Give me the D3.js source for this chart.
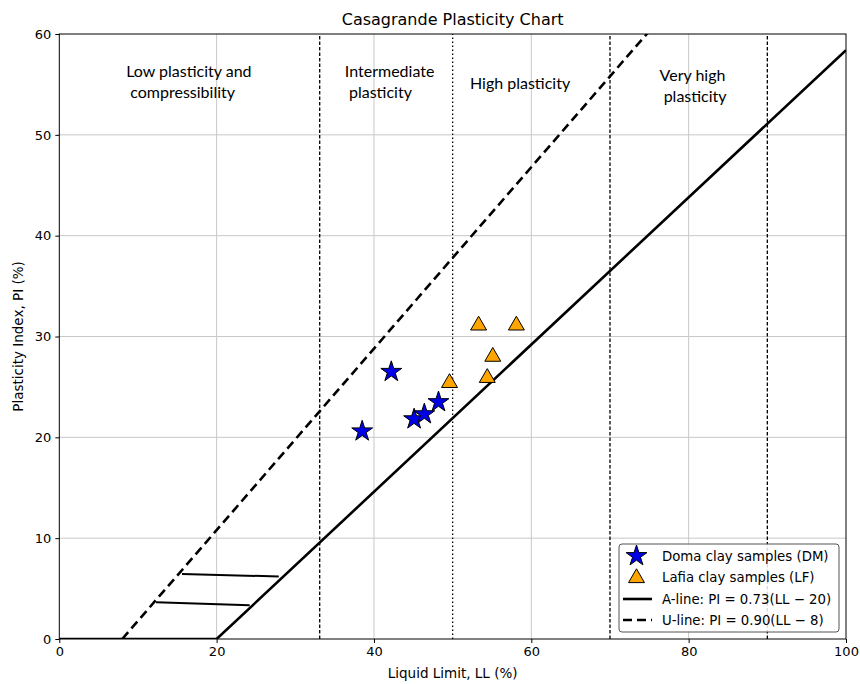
<!DOCTYPE html>
<html>
<head>
<meta charset="utf-8">
<script src="https://cdn.jsdelivr.net/npm/d3@7"></script>
<style>
  body { margin: 0; background: #fff; }
  text { font-family: "DejaVu Sans", sans-serif; }
  .zone { font-family: Lato, "Open Sans", sans-serif; font-size: 16px; }
</style>
</head>
<body>
<div id="chart"></div>
<script>
// chart data

var width = 860, height = 684;
var margin = {left: 59.3, right: 14, top: 34, bottom: 45};

var domaLL = [38.5, 42.2, 45.1, 46.4, 48.2];
var domaPI = [20.6, 26.5, 21.8, 22.3, 23.5];
var lafiaLL = [53.3, 58.1, 55.1, 54.4, 49.6];
var lafiaPI = [31.2, 31.2, 28.1, 26.0, 25.5];

var aLineLL = [0, 20, 100];
var uLineLL = [8, 100];

var zoneLL = [33.1, 50, 70, 90];
var zoneStyle = ["dash", "dot", "dash", "dash"];

var zoneText = [
  {x: 8.5, y: 55.7, lines: ["Low plasticity and", " compressibility"]},
  {x: 36.3, y: 55.7, lines: ["Intermediate", " plasticity"]},
  {x: 52.2, y: 54.5, lines: ["High plasticity"]},
  {x: 76.3, y: 55.3, lines: ["Very high", " plasticity"]}
];

// the two small horizontal marks near the origin
var hashLines = [
  [[15.6, 6.45], [27.9, 6.2]],
  [[12.3, 3.65], [24.2, 3.35]]
];

var xTicks = [0, 20, 40, 60, 80, 100];
var yTicks = [0, 10, 20, 30, 40, 50, 60];

var legendLabels = ["Doma clay samples (DM)", "Lafia clay samples (LF)",
  "A-line: PI = 0.73(LL \u2212 20)", "U-line: PI = 0.90(LL \u2212 8)"];

// scales

var x = d3.scaleLinear().domain([0, 100]).range([margin.left, width - margin.right]);
var y = d3.scaleLinear().domain([0, 60]).range([height - margin.bottom, margin.top]);

var svg = d3.select("#chart").append("svg")
  .attr("width", width)
  .attr("height", height);

svg.append("clipPath").attr("id", "clip")
  .append("rect")
  .attr("x", x(0)).attr("y", y(60))
  .attr("width", x(100) - x(0)).attr("height", y(0) - y(60));

// grid
svg.append("g").selectAll("line")
  .data(xTicks.slice(1, -1))
  .enter().append("line")
  .attr("x1", d => x(d)).attr("x2", d => x(d))
  .attr("y1", y(0)).attr("y2", y(60))
  .attr("stroke", "#c8c8c8").attr("stroke-width", 1);

svg.append("g").selectAll("line")
  .data(yTicks.slice(1, -1))
  .enter().append("line")
  .attr("x1", x(0)).attr("x2", x(100))
  .attr("y1", d => y(d)).attr("y2", d => y(d))
  .attr("stroke", "#c8c8c8").attr("stroke-width", 1);

// zone dividers
svg.append("g").selectAll("line")
  .data(zoneLL)
  .enter().append("line")
  .attr("x1", d => x(d)).attr("x2", d => x(d))
  .attr("y1", y(0)).attr("y2", y(60))
  .attr("stroke", "#000").attr("stroke-width", 1.3)
  .attr("stroke-dasharray", (d, i) => zoneStyle[i] == "dot" ? "1.5,2.5" : "3.5,2");

// zone labels
zoneText.forEach(function(z) {
  var t = svg.append("text").attr("class", "zone")
    .attr("x", x(z.x)).attr("y", y(z.y));
  z.lines.forEach(function(l, i) {
    t.append("tspan").attr("x", x(z.x)).attr("dy", i == 0 ? 0 : 21)
      .attr("xml:space", "preserve").text(l);
  });
});

var plot = svg.append("g").attr("clip-path", "url(#clip)");

var line = d3.line().x(d => x(d[0])).y(d => y(d[1]));

// A-line and U-line
plot.append("path")
  .datum(aLineLL.map(d => [d, Math.max(0, 0.73 * (d - 20))]))
  .attr("d", line)
  .attr("fill", "none").attr("stroke", "#000").attr("stroke-width", 2.6);

plot.append("path")
  .datum(uLineLL.map(d => [d, 0.90 * (d - 8)]))
  .attr("d", line)
  .attr("fill", "none").attr("stroke", "#000").attr("stroke-width", 2.6)
  .attr("stroke-dasharray", "9,5");

plot.selectAll("path.hash")
  .data(hashLines)
  .enter().append("path").attr("class", "hash")
  .attr("d", line)
  .attr("fill", "none").attr("stroke", "#000").attr("stroke-width", 2);

// samples
var star = d3.symbol().type(d3.symbolStar).size(135);
var tri = d3.symbol().type(d3.symbolTriangle).size(110);

svg.append("g").selectAll("path")
  .data(d3.range(domaLL.length))
  .enter().append("path")
  .attr("d", star)
  .attr("transform", i => "translate(" + x(domaLL[i]) + "," + y(domaPI[i]) + ")")
  .attr("fill", "#0000e6").attr("stroke", "#000").attr("stroke-width", 1);

svg.append("g").selectAll("path")
  .data(d3.range(lafiaLL.length))
  .enter().append("path")
  .attr("d", tri)
  .attr("transform", i => "translate(" + x(lafiaLL[i]) + "," + (y(lafiaPI[i]) + 1) + ")")
  .attr("fill", "#ffa500").attr("stroke", "#000").attr("stroke-width", 1);

// axes frame
svg.append("rect")
  .attr("x", x(0)).attr("y", y(60))
  .attr("width", x(100) - x(0)).attr("height", y(0) - y(60))
  .attr("fill", "none").attr("stroke", "#000").attr("stroke-width", 1);

var xAxis = svg.append("g")
  .attr("transform", "translate(0," + y(0) + ")")
  .call(d3.axisBottom(x).tickValues(xTicks).tickSize(4).tickPadding(4));
var yAxis = svg.append("g")
  .attr("transform", "translate(" + x(0) + ",0)")
  .call(d3.axisLeft(y).tickValues(yTicks).tickSize(4).tickPadding(4));

[xAxis, yAxis].forEach(function(a) {
  a.select(".domain").remove();
  a.selectAll("text").style("font-family", "DejaVu Sans").style("font-size", "13px").attr("fill", "#000");
});

svg.append("text")
  .attr("x", (x(0) + x(100)) / 2).attr("y", 678)
  .attr("text-anchor", "middle").style("font-size", "13.5px")
  .text("Liquid Limit, LL (%)");

svg.append("text")
  .attr("transform", "translate(23," + (y(30)) + ") rotate(-90)")
  .attr("text-anchor", "middle").style("font-size", "13.5px")
  .text("Plasticity Index, PI (%)");

svg.append("text")
  .attr("x", (x(0) + x(100)) / 2).attr("y", 25)
  .attr("text-anchor", "middle").style("font-size", "16px")
  .text("Casagrande Plasticity Chart");

// legend
var lg = svg.append("g").attr("transform", "translate(619,544)");
lg.append("rect")
  .attr("width", 220).attr("height", 88).attr("rx", 3)
  .attr("fill", "#fff").attr("fill-opacity", 0.85)
  .attr("stroke", "#555").attr("stroke-width", 1);

var rowY = [12, 33, 55, 76];

lg.append("path").attr("d", star)
  .attr("transform", "translate(17.5," + rowY[0] + ")")
  .attr("fill", "#0000e6").attr("stroke", "#000");
lg.append("path").attr("d", tri)
  .attr("transform", "translate(17.5," + (rowY[1] + 1) + ")")
  .attr("fill", "#ffa500").attr("stroke", "#000");
lg.append("line")
  .attr("x1", 4).attr("x2", 33).attr("y1", rowY[2]).attr("y2", rowY[2])
  .attr("stroke", "#000").attr("stroke-width", 2.6);
lg.append("line")
  .attr("x1", 4).attr("x2", 33).attr("y1", rowY[3]).attr("y2", rowY[3])
  .attr("stroke", "#000").attr("stroke-width", 2.6).attr("stroke-dasharray", "9,5");

lg.selectAll("text.lab")
  .data(legendLabels)
  .enter().append("text").attr("class", "lab")
  .attr("x", 43).attr("y", (d, i) => rowY[i] + 5)
  .style("font-size", "13.3px")
  .text(d => d);
</script>
</body>
</html>
